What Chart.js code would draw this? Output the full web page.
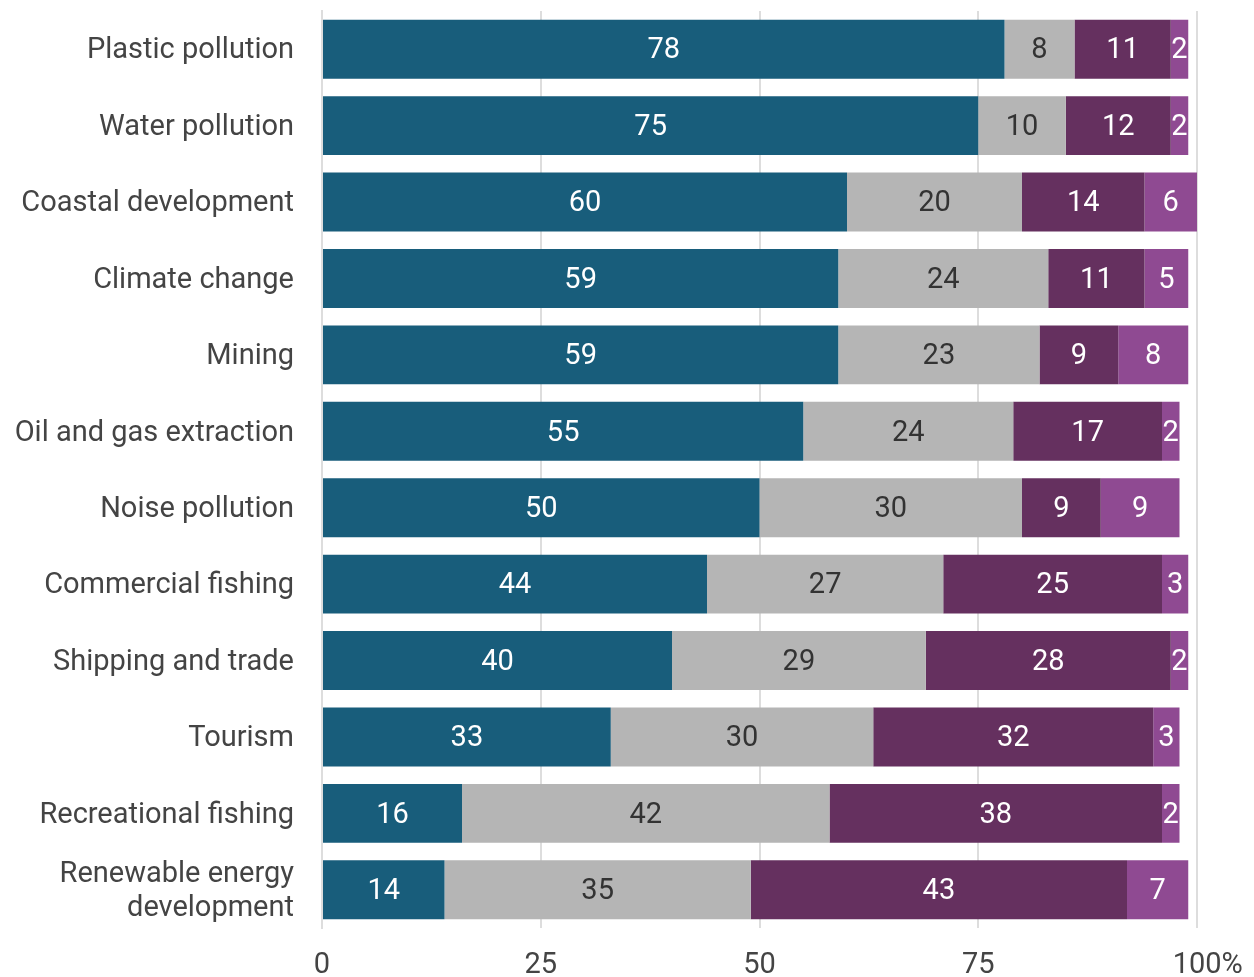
<!DOCTYPE html>
<html>
<head>
<meta charset="utf-8">
<script src="https://cdn.jsdelivr.net/npm/chart.js@4/dist/chart.umd.min.js"></script>
<style>
  html, body { margin: 0; padding: 0; background: #fff; }
  #wrap { width: 1254px; height: 977px; }
</style>
</head>
<body>
<div id="wrap"><canvas id="threatsChart" width="1254" height="977"></canvas></div>
<script>
const categories = [
  'Plastic pollution', 'Water pollution', 'Coastal development', 'Climate change',
  'Mining', 'Oil and gas extraction', 'Noise pollution', 'Commercial fishing',
  'Shipping and trade', 'Tourism', 'Recreational fishing',
  ['Renewable energy', 'development']
];
const seriesA = [78, 75, 60, 59, 59, 55, 50, 44, 40, 33, 16, 14];
const seriesB = [8, 10, 20, 24, 23, 24, 30, 27, 29, 30, 42, 35];
const seriesC = [11, 12, 14, 11, 9, 17, 9, 25, 28, 32, 38, 43];
const seriesD = [2, 2, 6, 5, 8, 2, 9, 3, 2, 3, 2, 7];
const xTicks = [0, 25, 50, 75, 100];

const colors = {
  teal: '#185d7b',
  gray: '#b5b5b5',
  plum: '#65305f',
  violet: '#8f4a92',
  text: '#444444'
};

// writes each segment's value in the middle of its bar piece
const segmentLabels = {
  id: 'segmentLabels',
  afterDatasetsDraw(chart) {
    const ctx = chart.ctx;
    ctx.save();
    ctx.font = '29px Roboto';
    ctx.textAlign = 'center';
    ctx.textBaseline = 'middle';
    chart.data.datasets.forEach((ds, i) => {
      chart.getDatasetMeta(i).data.forEach((bar, j) => {
        const v = ds.data[j];
        const cx = (bar.x + bar.base) / 2;
        ctx.fillStyle = ds.labelColor;
        ctx.fillText(String(v), cx, bar.y + 2);
      });
    });
    ctx.restore();
  }
};

new Chart(document.getElementById('threatsChart'), {
  type: 'bar',
  data: {
    labels: categories,
    datasets: [
      { label: 'A', data: seriesA, backgroundColor: colors.teal, labelColor: '#ffffff' },
      { label: 'B', data: seriesB, backgroundColor: colors.gray, labelColor: '#333333' },
      { label: 'C', data: seriesC, backgroundColor: colors.plum, labelColor: '#ffffff' },
      { label: 'D', data: seriesD, backgroundColor: colors.violet, labelColor: '#ffffff' }
    ]
  },
  options: {
    indexAxis: 'y',
    responsive: false,
    animation: false,
    layout: { padding: { top: 11, right: 57, left: 0, bottom: 0 } },
    datasets: { bar: { categoryPercentage: 1, barPercentage: 0.77, borderWidth: 0 } },
    plugins: { legend: { display: false }, tooltip: { enabled: false } },
    scales: {
      x: {
        stacked: true,
        min: 0,
        max: 100,
        afterBuildTicks: axis => { axis.ticks = xTicks.map(v => ({ value: v })); },
        afterFit: axis => { axis.height = 49; axis.paddingLeft = 0; axis.paddingRight = 0; },
        grid: { color: '#dddddd', lineWidth: 2, drawTicks: false },
        border: { display: false },
        ticks: {
          padding: 20,
          color: colors.text,
          font: { family: 'Roboto', size: 29 },
          maxRotation: 0,
          // the percent sign hangs past the last gridline
          callback: v => v === 100 ? '   100%' : v
        }
      },
      y: {
        stacked: true,
        afterFit: axis => { axis.width = 322; axis.paddingTop = 0; axis.paddingBottom = 0; },
        grid: { display: false, drawTicks: false },
        border: { display: true, color: '#dddddd', width: 2 },
        ticks: {
          autoSkip: false,
          padding: 28,
          labelOffset: 2,
          color: colors.text,
          font: { family: 'Roboto', size: 29, lineHeight: 1.2 }
        }
      }
    }
  },
  plugins: [segmentLabels]
});
</script>
</body>
</html>
